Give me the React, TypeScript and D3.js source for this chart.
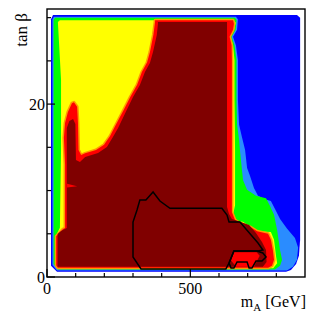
import React from "react";
import * as d3 from "d3";

// m_A [GeV] vs tan beta, nested contour levels (outer to inner)
const blueLevel: [number, number][] = [[14,29.8],[21,30.3],[872,30.3],[883,30.0],[883,4.3],[879,2.5],[869,1.5],[851,0.8],[834,0.6],[35,0.6],[14,1.3]];
const lightBlueLevel: [number, number][] = [[19,29.8],[24,30.1],[659,30.1],[666,29.8],[663,28.6],[649,27.8],[659,26.8],[666,25.1],[666,20.5],[670,17.6],[680,16.2],[691,14.7],[698,12.6],[708,11.7],[722,10.3],[736,9.4],[760,9.0],[781,8.8],[795,7.9],[813,6.7],[837,5.6],[865,4.5],[876,3.4],[872,2.0],[858,1.2],[837,0.75],[35,0.75],[19,1.4]];
const greenLevel: [number, number][] = [[23,29.7],[28,30.0],[656,30.0],[661,29.7],[658,28.6],[644,27.8],[654,26.8],[661,25.1],[661,20.5],[663,17.6],[670,15.9],[673,14.7],[680,12.4],[684,11.2],[698,10.1],[729,9.4],[764,9.1],[778,8.2],[792,7.2],[803,5.4],[813,3.1],[820,2.0],[813,1.3],[795,0.87],[38,0.87],[23,1.5]];
const yellowLevel: [number, number][] = [[38,29.5],[45,29.7],[652,29.7],[658,29.4],[652,28.6],[640,27.8],[649,26.8],[654,25.1],[654,20.5],[656,14.7],[656,8.3],[649,7.2],[652,6.5],[684,6.4],[705,5.9],[729,5.3],[781,5.2],[792,4.3],[799,2.4],[803,1.6],[789,1.0],[38,1.0],[30,1.5],[30,4.7],[45,5.7],[49,14.7],[49,22.8]];
const redLevel: [number, number][] = [[377,29.7],[649,29.7],[652,29.3],[649,28.6],[637,27.8],[644,26.8],[645,25.1],[645,8.3],[645,7.5],[656,6.6],[677,6.1],[708,5.8],[733,5.3],[771,5.0],[781,4.3],[788,3.1],[792,2.0],[785,1.3],[771,1.06],[38,1.06],[32,1.33],[32,4.7],[56,5.55],[63,5.67],[63,13.0],[59,16.1],[63,17.8],[73,19.1],[87,20.1],[94,20.2],[105,19.7],[108,17.8],[110,14.7],[119,14.1],[133,14.3],[171,14.7],[199,15.3],[220,16.3],[237,17.4],[267,19.3],[290,20.8],[314,22.2],[331,23.7],[349,24.8],[359,26.0],[371,28.0],[377,29.5]];
const darkRedLevel: [number, number][] = [[387,29.5],[628,29.5],[628,8.1],[635,7.29],[645,6.71],[677,6.36],[705,6.02],[729,5.09],[750,4.05],[764,3.12],[766,1.74],[753,1.19],[37,1.19],[37,4.97],[49,5.32],[69,5.67],[69,17.24],[78,18.05],[91,18.28],[99,17.7],[101,13.53],[115,13.3],[133,13.88],[178,14.34],[209,15.04],[230,16.19],[248,17.24],[278,19.32],[300,20.82],[324,22.21],[342,23.75],[359,24.75],[370,26.06],[383,27.99],[387,29.27]];
const redIslands: [number, number][][] = [
  [[652,2.85],[731,2.85],[742,2.45],[722,1.2],[660,1.2],[642,1.9]],
  [[70,10.8],[105,10.5],[70,10.35]],
];

// black contour lines
const contourMain: [number, number][] = [[370,9.83],[394,8.79],[429,7.95],[610,7.95],[628,7.17],[635,6.36],[673,6.36],[736,3.93],[753,3.12],[736,3.01],[652,3.01],[635,1.62],[624,0.93],[328,0.93],[300,2.31],[300,6.36],[314,7.75],[324,8.91],[345,8.91]];
const contourBowtie: [number, number][] = [[652,3.01],[733,3.01],[753,2.78],[764,2.31],[750,1.85],[729,1.85],[715,1.04],[705,1.04],[698,1.74],[663,1.74],[652,1.04],[642,1.04],[635,1.62]];

const xMajorTicks = [0, 500];
const xMinorTicks = [100, 200, 300, 400, 600, 700, 800];
const yMajorTicks = [0, 20];
const yMinorTicks = [5, 10, 15, 25, 30];

export default function App() {
  const W = 315;
  const H = 316;
  const x = d3.scaleLinear().domain([0, 900]).range([47, 305]);
  const y = d3.scaleLinear().domain([0, 31]).range([277, 9]);

  const area = (pts: [number, number][]) =>
    (d3.line<[number, number]>().x((d) => x(d[0])).y((d) => y(d[1]))(pts) || "") + "Z";

  const font = "'Liberation Serif', 'Times New Roman', serif";

  return (
    <svg width={W} height={H} style={{ position: "absolute", left: 0, top: 0, background: "#fff" }}>
      <path d={area(blueLevel)} fill="#0000ff" />
      <path d={area(lightBlueLevel)} fill="#2a8cff" />
      <path d={area(greenLevel)} fill="#00ff00" />
      <path d={area(yellowLevel)} fill="#ffff00" />
      <path d={area(redLevel)} fill="#ff0000" stroke="#ff9900" strokeWidth={3} strokeLinejoin="round" style={{ paintOrder: "stroke" }} />
      <path d={area(darkRedLevel)} fill="#800000" />
      {redIslands.map((p, i) => (
        <path key={i} d={area(p)} fill="#ff0000" />
      ))}
      <path d={area(contourMain)} fill="none" stroke="#000" strokeWidth={1.5} />
      <path d={area(contourBowtie)} fill="none" stroke="#000" strokeWidth={1.5} />

      {/* frame */}
      <rect x={47} y={9} width={258} height={268} fill="none" stroke="#000" strokeWidth={1.4} />

      {xMajorTicks.map((t) => (
        <g key={"xM" + t}>
          <line x1={x(t)} x2={x(t)} y1={277} y2={269} stroke="#000" strokeWidth={1.2} />
          <text x={x(t)} y={294} textAnchor="middle" fontFamily={font} fontSize={16}>{t}</text>
        </g>
      ))}
      {xMinorTicks.map((t) => (
        <line key={"xm" + t} x1={x(t)} x2={x(t)} y1={277} y2={273} stroke="#000" strokeWidth={1.2} />
      ))}
      {yMajorTicks.map((t) => (
        <g key={"yM" + t}>
          <line x1={47} x2={55} y1={y(t)} y2={y(t)} stroke="#000" strokeWidth={1.2} />
          <text x={45} y={y(t) + 6} textAnchor="end" fontFamily={font} fontSize={16}>{t}</text>
        </g>
      ))}
      {yMinorTicks.map((t) => (
        <line key={"ym" + t} x1={47} x2={51} y1={y(t)} y2={y(t)} stroke="#000" strokeWidth={1.2} />
      ))}

      <text x={306} y={307} textAnchor="end" fontFamily={font} fontSize={16}>
        m<tspan fontSize={11} dy={4}>A</tspan><tspan dy={-4}> [GeV]</tspan>
      </text>
      <text transform="translate(27,13) rotate(-90)" textAnchor="end" fontFamily={font} fontSize={17}>
        tan β
      </text>
    </svg>
  );
}
